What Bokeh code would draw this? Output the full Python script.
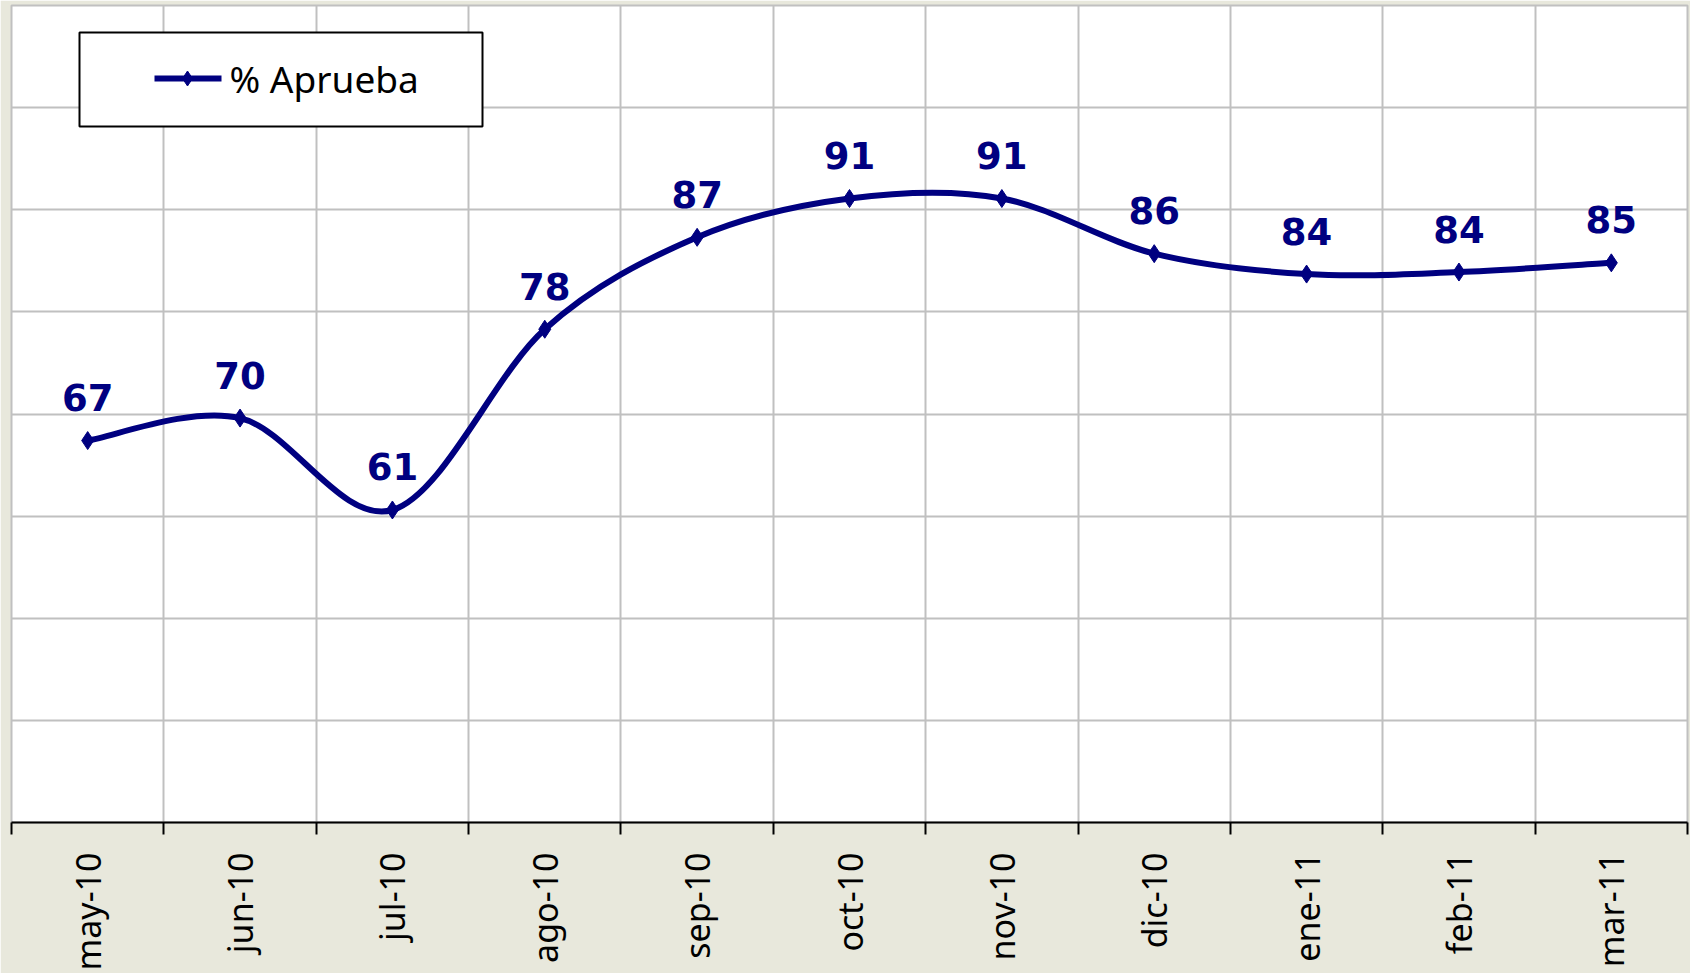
import math
from bokeh.plotting import figure
from bokeh.models import Range1d, FixedTicker, ColumnDataSource
from bokeh.core.properties import value
from bokeh.embed import file_html
from bokeh.resources import INLINE

# ---- data ----
months = ["may-10", "jun-10", "jul-10", "ago-10", "sep-10", "oct-10",
          "nov-10", "dic-10", "ene-11", "feb-11", "mar-11"]
aprueba = [67.4, 69.6, 60.6, 78.3, 87.3, 91.1, 91.1, 85.7, 83.7, 83.9, 84.8]
point_labels = ["67", "70", "61", "78", "87", "91", "91", "86", "84", "84", "85"]
series_name = "% Aprueba"

NAVY = "#000080"
BEIGE = "#E8E8DC"
GRID = "#C0C0C0"

n = len(months)
xs = [i + 0.5 for i in range(n)]

# smoothed line (Excel-style Catmull-Rom Bezier segments through the points)
bz = dict(x0=[], y0=[], x1=[], y1=[], cx0=[], cy0=[], cx1=[], cy1=[])
for i in range(n - 1):
    a = i - 1 if i > 0 else i
    d = i + 2 if i + 2 < n else i + 1
    bz["x0"].append(xs[i]); bz["y0"].append(aprueba[i])
    bz["x1"].append(xs[i + 1]); bz["y1"].append(aprueba[i + 1])
    bz["cx0"].append(xs[i] + (xs[i + 1] - xs[a]) / 6)
    bz["cy0"].append(aprueba[i] + (aprueba[i + 1] - aprueba[a]) / 6)
    bz["cx1"].append(xs[i + 1] - (xs[d] - xs[i]) / 6)
    bz["cy1"].append(aprueba[i + 1] - (aprueba[d] - aprueba[i]) / 6)

p = figure(width=1690, height=973, x_range=Range1d(0, 11), y_range=Range1d(30, 110),
           output_backend="svg", toolbar_location=None,
           min_border_left=11, min_border_right=3, min_border_top=5, min_border_bottom=10)
p.background_fill_color = "white"
p.border_fill_color = BEIGE
p.outline_line_color = GRID
p.outline_line_width = 2

p.yaxis.visible = False
p.xaxis.ticker = FixedTicker(ticks=xs, minor_ticks=list(range(n + 1)))
p.xaxis.major_label_overrides = {x: m for x, m in zip(xs, months)}
p.xaxis.axis_line_color = "black"
p.xaxis.axis_line_width = 2
p.xaxis.major_tick_in = 0
p.xaxis.major_tick_out = 0
p.xaxis.major_tick_line_color = None
p.xaxis.minor_tick_in = 0
p.xaxis.minor_tick_out = 12
p.xaxis.minor_tick_line_color = "black"
p.xaxis.minor_tick_line_width = 2
p.xaxis.major_label_orientation = math.pi / 2
p.xaxis.major_label_text_font = "Noto Sans"
p.xaxis.major_label_text_font_size = "34px"
p.xaxis.major_label_text_color = "black"
p.xaxis.major_label_standoff = 18

p.xgrid.ticker = FixedTicker(ticks=list(range(n + 1)))
p.ygrid.ticker = FixedTicker(ticks=list(range(30, 111, 10)))
for g in (p.xgrid, p.ygrid):
    g.grid_line_color = GRID
    g.grid_line_width = 2

src = ColumnDataSource(dict(x=xs, y=aprueba, lab=point_labels))
p.bezier(x0="x0", y0="y0", x1="x1", y1="y1", cx0="cx0", cy0="cy0", cx1="cx1", cy1="cy1",
         source=ColumnDataSource(bz), line_color=NAVY, line_width=6)
p.scatter(x="x", y="y", source=src, marker="diamond", size=18, fill_color=NAVY, line_color=NAVY)
p.text(x="x", y="y", text="lab", source=src, y_offset=-43, text_align="center",
       text_baseline="alphabetic", text_font=value("DejaVu Sans"), text_font_style="bold",
       text_font_size="37px", text_color=NAVY)

# legend drawn in the plot (positions from the reference layout)
def xd(px):
    return (px - 11) / ((1687 - 11) / 11)

def yd(py):
    return 30 + (822 - py) / 10.2125

p.quad(left=[xd(79)], right=[xd(482)], top=[yd(32)], bottom=[yd(126)],
       fill_color="white", line_color="black", line_width=2)
p.segment(x0=[xd(154)], y0=[yd(78)], x1=[xd(221)], y1=[yd(78)], line_color=NAVY, line_width=6)
p.scatter(x=[xd(187)], y=[yd(78)], marker="diamond", size=15, fill_color=NAVY, line_color=NAVY)
p.text(x=[xd(229)], y=[yd(78)], text=[series_name], text_baseline="middle", text_align="left",
       text_font=value("Noto Sans"), text_font_size="37px", text_color="black")

open("out.html", "w").write(file_html(p, INLINE))
